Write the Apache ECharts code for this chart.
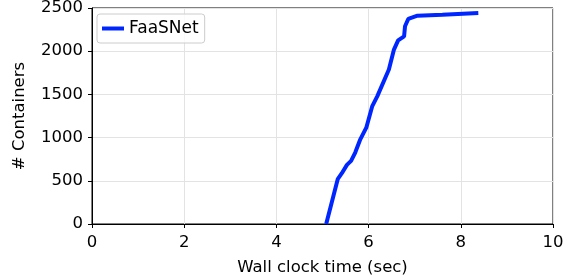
<!DOCTYPE html>
<html>
<head>
<meta charset="utf-8">
<script src="https://cdn.jsdelivr.net/npm/echarts@6/dist/echarts.min.js"></script>
<style>
  html, body { margin: 0; padding: 0; background: #fff; }
  #chart { width: 575px; height: 279px; }
</style>
</head>
<body>
<div id="chart"></div>
<script>
// FaaSNet container provisioning over wall clock time
const timeSec = [5.08, 5.33, 5.42, 5.53, 5.62, 5.71, 5.82, 5.95, 6.08, 6.19, 6.44, 6.55, 6.64, 6.77, 6.79, 6.86, 7.06, 7.6, 8.38];
const containers = [0, 519, 588, 684, 730, 827, 980, 1115, 1365, 1480, 1788, 2019, 2126, 2172, 2288, 2373, 2411, 2423, 2442];
const xTicks = [0, 2, 4, 6, 8, 10];
const yTicks = [0, 500, 1000, 1500, 2000, 2500];

const font = 'DejaVu Sans';
const fs = 16.5;
const chart = echarts.init(document.getElementById('chart'));

chart.setOption({
  animation: false,
  textStyle: { fontFamily: font },
  grid: {
    left: 92, right: 22, top: 8, bottom: 55,
    outerBoundsMode: 'none',
    show: true, borderColor: '#000', borderWidth: 1
  },
  legend: {
    left: 97, top: 14,
    padding: [6, 6, 6, 5],
    backgroundColor: 'rgba(255,255,255,0.8)',
    borderColor: '#ccc', borderWidth: 1, borderRadius: 3,
    itemWidth: 22, itemHeight: 4, itemGap: 5,
    icon: 'rect',
    textStyle: { fontFamily: font, fontSize: 17, color: '#000' },
    data: ['FaaSNet']
  },
  xAxis: {
    type: 'value',
    min: xTicks[0], max: xTicks[xTicks.length - 1], interval: 2,
    name: 'Wall clock time (sec)', nameLocation: 'middle', nameGap: 35,
    nameTextStyle: { fontFamily: font, fontSize: fs, color: '#000' },
    axisLine: { lineStyle: { color: '#000' } },
    axisTick: { show: true, length: 4, lineStyle: { color: '#000' } },
    axisLabel: { fontFamily: font, fontSize: fs, color: '#000', margin: 10 },
    splitLine: { show: true, lineStyle: { color: '#e3e3e3' } }
  },
  yAxis: {
    type: 'value',
    min: yTicks[0], max: yTicks[yTicks.length - 1], interval: 500,
    name: '# Containers', nameLocation: 'middle', nameGap: 64,
    nameTextStyle: { fontFamily: font, fontSize: fs, color: '#000' },
    axisLine: { show: true, lineStyle: { color: '#000' } },
    axisTick: { show: true, length: 4, lineStyle: { color: '#000' } },
    axisLabel: { fontFamily: font, fontSize: fs, color: '#000', margin: 9, formatter: v => String(v) },
    splitLine: { show: true, lineStyle: { color: '#e3e3e3' } }
  },
  series: [{
    name: 'FaaSNet',
    type: 'line',
    data: timeSec.map((t, i) => [t, containers[i]]),
    showSymbol: false,
    color: '#0026ff',
    lineStyle: { width: 4, color: '#0026ff' }
  }]
});
</script>
</body>
</html>
